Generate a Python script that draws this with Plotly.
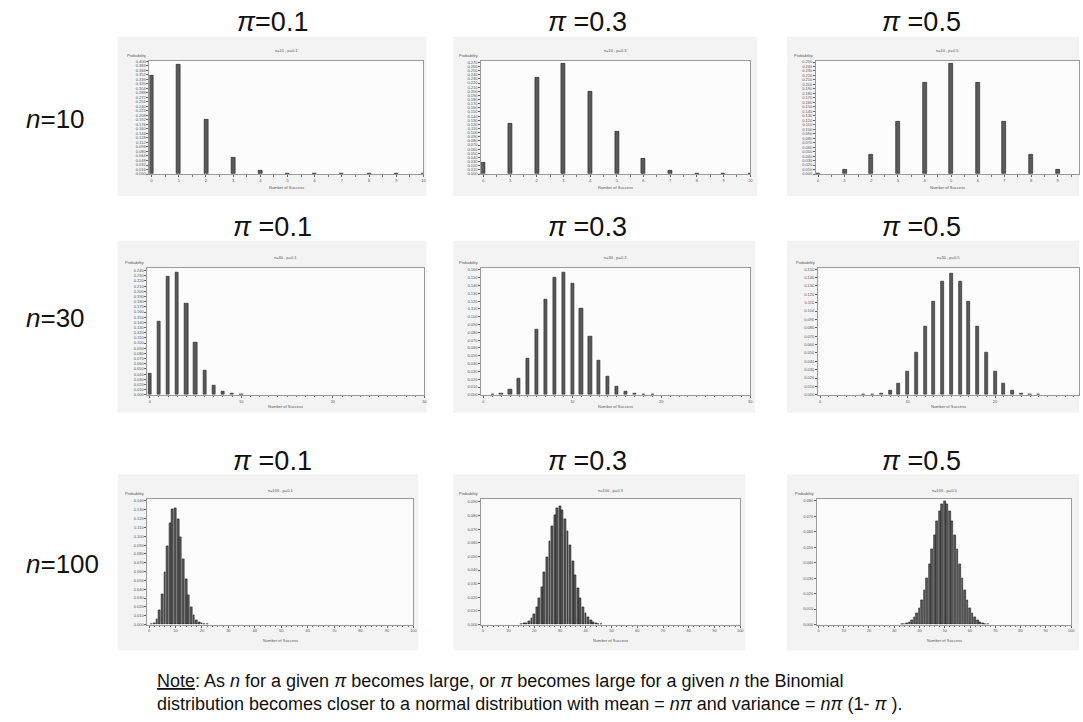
import plotly.graph_objects as go

W, H = 1083, 722

# ---------------- data ----------------
col_pis = ["0.1", "0.3", "0.5"]
row_ns = ["10", "30", "100"]

n10_p01 = [0.349, 0.387, 0.194, 0.057, 0.011, 0.001, 0.000, 0.000, 0.000, 0.000, 0.000]
n10_p03 = [0.028, 0.121, 0.233, 0.267, 0.200, 0.103, 0.037, 0.009, 0.001, 0.000, 0.000]
n10_p05 = [0.001, 0.010, 0.044, 0.117, 0.205, 0.246, 0.205, 0.117, 0.044, 0.010, 0.001]
n10_start = [0, 0, 0]

n30_p01 = [0.042, 0.141, 0.228, 0.236, 0.177, 0.102, 0.047, 0.018, 0.006, 0.002, 0.0004]
n30_p03 = [0.0003, 0.002, 0.007, 0.021, 0.046, 0.083, 0.122, 0.150, 0.157, 0.142, 0.110,
           0.075, 0.044, 0.023, 0.011, 0.004, 0.0015, 0.0005, 0.0001]
n30_p05 = [0.0001, 0.0006, 0.002, 0.0055, 0.013, 0.028, 0.051, 0.081, 0.112, 0.135, 0.1445,
           0.135, 0.112, 0.081, 0.051, 0.028, 0.013, 0.0055, 0.002, 0.0006, 0.0001]
n30_start = [0, 1, 5]

n100_p01 = [0.0003, 0.0016, 0.0059, 0.0159, 0.0339, 0.0596, 0.0889, 0.1148, 0.1304, 0.1319,
            0.1199, 0.0988, 0.0743, 0.0513, 0.0327, 0.0193, 0.0106, 0.0054, 0.0026, 0.0012,
            0.0005, 0.0002]
n100_p03 = [0.0003, 0.0006, 0.0012, 0.0024, 0.0044, 0.0076, 0.0124, 0.0190, 0.0277, 0.0381,
            0.0496, 0.0613, 0.0720, 0.0804, 0.0856, 0.0868, 0.0840, 0.0776, 0.0685, 0.0579,
            0.0468, 0.0362, 0.0268, 0.0191, 0.0130, 0.0085, 0.0053, 0.0032, 0.0019, 0.0010,
            0.0005, 0.0003]
n100_p05 = [0.0002, 0.0005, 0.0009, 0.0016, 0.0027, 0.0045, 0.0071, 0.0108, 0.0159, 0.0223,
            0.0301, 0.0390, 0.0485, 0.0580, 0.0666, 0.0735, 0.0780, 0.0796, 0.0780, 0.0735,
            0.0666, 0.0580, 0.0485, 0.0390, 0.0301, 0.0223, 0.0159, 0.0108, 0.0071, 0.0045,
            0.0027, 0.0016, 0.0009, 0.0005, 0.0002]
n100_start = [1, 15, 33]

series = [[n10_p01, n10_p03, n10_p05], [n30_p01, n30_p03, n30_p05], [n100_p01, n100_p03, n100_p05]]
starts = [n10_start, n30_start, n100_start]

# axis settings per panel
y_max = [[0.402, 0.274, 0.253], [0.246, 0.163, 0.152], [0.142, 0.092, 0.081]]
y_dtick = [[0.016, 0.01, 0.01], [0.01, 0.01, 0.01], [0.01, 0.01, 0.01]]
x_max = [[10, 10, 9.8], [30, 30, 29.6], [100, 100, 100]]
x_dtick = [1, 10, 10]
x_minor = [0.5, 1, 2]
bar_w = [0.15, 0.36, 0.72]

# ---------------- layout geometry (pixels) ----------------
plot_x = [[(150, 425), (483, 753), (819, 1083)],
          [(148, 426), (483, 753), (821, 1083)],
          [(148, 415), (483, 743), (820, 1075)]]
plot_y = [(59, 173), (267, 395), (500, 626)]
panel_x = [[(118, 428), (455, 760), (790, 1083)],
           [(118, 428), (455, 758), (790, 1083)],
           [(118, 420), (455, 748), (790, 1083)]]
panel_y = [(35, 195), (240, 413), (475, 652)]
head_y = [20, 226, 462]
sub_y = [49, 257, 491]
xt_y = [187, 407, 642]
nlab_y = [118, 318, 565]
head_x = [274, 590, 925]


def px(v):
    return v / W


def py(v):
    return 1 - v / H


fig = go.Figure()
shapes = []
annotations = []
tiny = dict(size=4, color="#555", family="Liberation Sans")
tick_font = tiny

for r in range(3):
    for c in range(3):
        idx = r * 3 + c + 1
        xa = "x" if idx == 1 else f"x{idx}"
        ya = "y" if idx == 1 else f"y{idx}"
        vals = series[r][c]
        s = starts[r][c]
        xs = list(range(s, s + len(vals)))
        fig.add_trace(go.Bar(
            x=xs, y=vals, xaxis=xa, yaxis=ya, width=bar_w[r],
            marker=dict(color="#5a5a5a", line=dict(color="#1e1e1e", width=0.6)),
            showlegend=False, hoverinfo="x+y"))
        x0, x1 = plot_x[r][c]
        y0, y1 = plot_y[r]
        xlo = -0.08 if r == 0 else (-0.25 if r == 1 else -0.6)
        fig.layout[f"xaxis{idx}" if idx > 1 else "xaxis"] = dict(
            domain=[px(x0), px(x1)], anchor=ya, range=[xlo, x_max[r][c]],
            tick0=0, dtick=x_dtick[r], ticks="outside", ticklen=2, tickcolor="#666",
            tickfont=tick_font, showgrid=False, zeroline=False,
            showline=True, linecolor="#9a9a9a", linewidth=1, mirror=True,
            minor=dict(dtick=x_minor[r], ticks="outside", ticklen=1.5, tickcolor="#777"),
            fixedrange=True)
        fig.layout[f"yaxis{idx}" if idx > 1 else "yaxis"] = dict(
            domain=[py(y1), py(y0)], anchor=xa, range=[0, y_max[r][c]],
            tick0=0, dtick=y_dtick[r][c], ticks="outside", ticklen=2, tickcolor="#666",
            tickfont=tick_font, tickformat=".3f", showgrid=False, zeroline=False,
            showline=True, linecolor="#9a9a9a", linewidth=1, mirror=True,
            fixedrange=True)
        # panel background
        pxa, pxb = panel_x[r][c]
        pya, pyb = panel_y[r]
        shapes.append(dict(type="rect", xref="paper", yref="paper",
                           x0=px(pxa), x1=px(pxb), y0=py(pyb), y1=py(pya),
                           fillcolor="#f3f3f3", line=dict(width=0), layer="below"))
        shapes.append(dict(type="rect", xref="paper", yref="paper",
                           x0=px(x0), x1=px(x1), y0=py(y1), y1=py(y0),
                           fillcolor="#fcfcfc", line=dict(width=0), layer="below"))
        cx = px((x0 + min(x1, 1083)) / 2)
        # small panel title
        annotations.append(dict(
            text=f"n={row_ns[r]} , p={col_pis[c]}", xref="paper", yref="paper",
            x=cx, y=py(sub_y[r]), xanchor="center", yanchor="middle",
            showarrow=False, font=tiny))
        # y label
        annotations.append(dict(
            text="Probability", xref="paper", yref="paper", x=px(x0 - 1), y=py(y0 - 1),
            xanchor="right", yanchor="bottom", showarrow=False, font=tiny))
        # x title
        annotations.append(dict(
            text="Number of Success", xref="paper", yref="paper",
            x=cx, y=py(xt_y[r]), xanchor="center", yanchor="middle",
            showarrow=False, font=tiny))
        # big pi header
        annotations.append(dict(
            text=f"<i>π</i>{'' if (r == 0 and c == 0) else ' '}={col_pis[c]}",
            xref="paper", yref="paper", x=px(head_x[c]), y=py(head_y[r]),
            xanchor="center", yanchor="middle",
            showarrow=False, font=dict(size=27, color="#111", family="Liberation Sans")))

    annotations.append(dict(
        text=f"<i>n</i>={row_ns[r]}", xref="paper", yref="paper", x=px(24), y=py(nlab_y[r]),
        xanchor="left", yanchor="middle", showarrow=False,
        font=dict(size=26, color="#111", family="Liberation Sans")))

note_font = dict(size=18, color="#111", family="Liberation Sans Narrow, Arial Narrow, Liberation Sans")
annotations.append(dict(
    text="<u>Note</u>: As <i>n</i> for a given <i>π</i> becomes large, or <i>π</i> becomes large "
         "for a given <i>n</i> the Binomial",
    xref="paper", yref="paper", x=px(156), y=py(683), xanchor="left", yanchor="middle",
    showarrow=False, font=note_font))
annotations.append(dict(
    text="distribution becomes closer to a normal distribution with mean = <i>nπ</i> and "
         "variance = <i>nπ</i> (1- <i>π</i> ).",
    xref="paper", yref="paper", x=px(156), y=py(706), xanchor="left", yanchor="middle",
    showarrow=False, font=note_font))

fig.update_layout(
    width=W, height=H, margin=dict(l=0, r=0, t=0, b=0),
    paper_bgcolor="white", plot_bgcolor="rgba(0,0,0,0)",
    shapes=shapes, annotations=annotations, bargap=0,
)

fig.write_html("out.html", config={"displayModeBar": False},
               post_script="document.body.style.margin='0';document.body.style.padding='0';")
